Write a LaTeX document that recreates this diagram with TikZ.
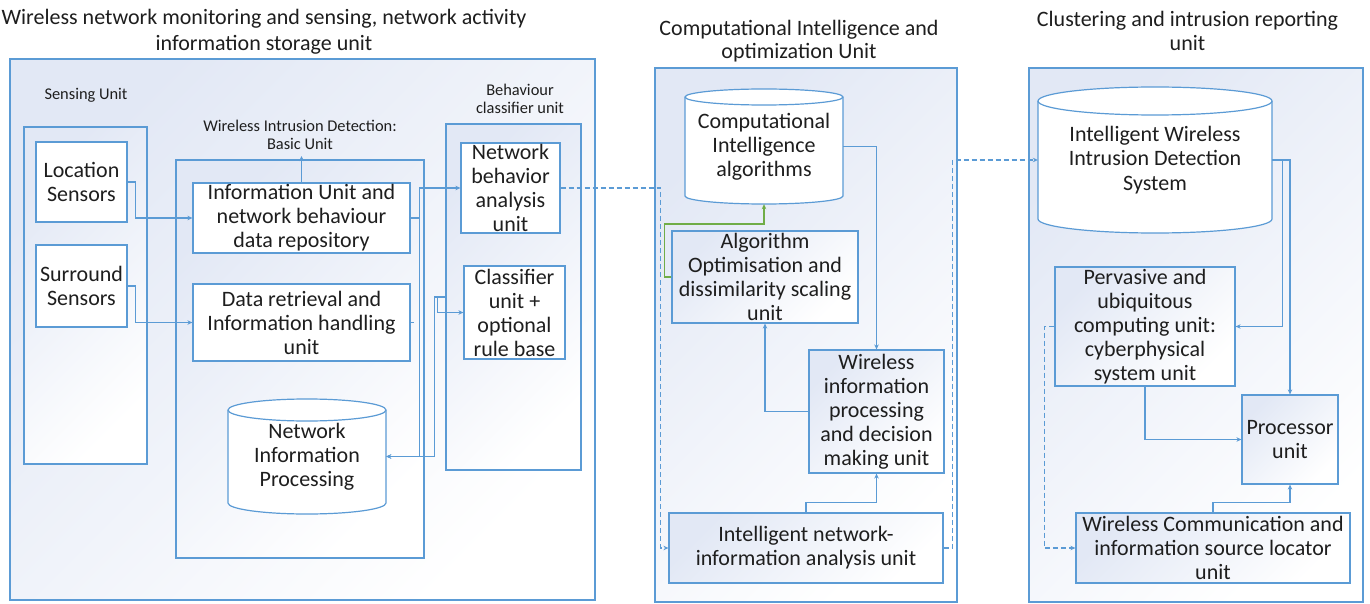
\documentclass[tikz,border=0pt]{standalone}
\usepackage{fontspec}
\setmainfont{Carlito}
\usetikzlibrary{arrows.meta,calc}
\definecolor{bl}{RGB}{91,155,213}
\definecolor{gr}{RGB}{112,173,71}
\definecolor{sh}{RGB}{226,232,245}
\definecolor{tx}{RGB}{30,30,30}
\newcommand\cylpath[6]{%
 \draw[cylst] (#1,{#3+#6}) -- (#1,{#4-#6}) arc[start angle=180,end angle=360,x radius=#5pt,y radius=#6pt] -- (#2,{#3+#6}) arc[start angle=0,end angle=180,x radius=#5pt,y radius=#6pt] -- cycle;
 \draw[cylline] (#1,{#3+#6}) arc[start angle=180,end angle=360,x radius=#5pt,y radius=#6pt];}
\begin{document}
\begin{tikzpicture}[x=1pt,y=-1pt,
  every node/.style={text=tx, font=\fontsize{22}{24}\selectfont},
  bigframe/.style={draw=bl, line width=1.2pt, top color=sh, bottom color=white, shading angle=45},
  plainbox/.style={draw=bl, line width=1.2pt, fill=white, inner sep=0pt, align=center},
  shbox/.style={bigframe, inner sep=0pt, align=center},
  cyltext/.style={inner sep=0pt, align=center},
  cylst/.style={draw=bl, line width=1.2pt, fill=white},
  cylline/.style={draw=bl, line width=1.2pt},
  lab/.style={font=\fontsize{16.4}{18.5}\selectfont, align=center},
  ttl/.style={align=center},
  conn/.style={draw=bl, line width=1.1pt},
  arr/.style={conn, -{Stealth[length=5pt,width=4.5pt]}},
  garr/.style={draw=gr, line width=1.4pt, -{Stealth[length=5pt,width=4.5pt]}},
  dconn/.style={arr, dash pattern=on 5pt off 3pt},
]
\useasboundingbox (0,0) rectangle (1370,604);
\fill[white] (0,0) rectangle (1370,604);

% titles
\node[ttl, font=\fontsize{22}{26}\selectfont] (t1) at (264,32) {Wireless network monitoring and sensing, network activity\\information storage unit};
\node[ttl, font=\fontsize{22}{23}\selectfont] (t2) at (799,41.5) {Computational Intelligence and\\optimization Unit};
\node[ttl] (t3) at (1187.5,31) {Clustering and intrusion reporting\\unit};

% big frames
\node[bigframe, minimum width=585pt, minimum height=541pt] (L) at (302.5,329.5) {};
\node[bigframe, minimum width=302pt, minimum height=534pt] (M) at (806,335) {};
\node[bigframe, minimum width=334pt, minimum height=534pt] (R) at (1196,335) {};

% left unit
\node[lab] (l1) at (86,95) {Sensing Unit};
\node[lab] (l2) at (520,99) {Behaviour\\classifier unit};
\node[lab] (l3) at (300,135) {Wireless Intrusion Detection:\\Basic Unit};

\node[shbox, minimum width=123pt, minimum height=337pt] (sens) at (85.5,295.5) {};
\node[plainbox, minimum width=91pt, minimum height=80pt] (loc) at (81.5,182) {Location\\Sensors};
\node[plainbox, minimum width=91pt, minimum height=82pt] (sur) at (81.5,286) {Surround\\Sensors};

\node[shbox, minimum width=248pt, minimum height=398pt] (wid) at (300,359) {};
\node[plainbox, minimum width=217pt, minimum height=70pt, inner ysep=-5pt] (info) at (301.5,218) {Information Unit and\\network behaviour\\data repository};
\node[plainbox, minimum width=217pt, minimum height=77pt, inner ysep=-5pt] (dret) at (301.5,322.5) {Data retrieval and\\Information handling\\unit};

\cylpath{228}{386}{399}{514}{79}{11}
\node[cyltext, minimum width=158pt, minimum height=115pt] (nip) at (307,456.5) {Network\\Information\\Processing};

\node[shbox, minimum width=135pt, minimum height=346pt] (beh) at (513.5,297) {};
\node[plainbox, minimum width=99pt, minimum height=90pt, inner ysep=-9pt] (nba) at (510.5,188) {Network\\behavior\\analysis\\unit};
\node[plainbox, minimum width=101pt, minimum height=93pt, inner ysep=-9pt] (cls) at (514.5,312.5) {Classifier\\unit +\\optional\\rule base};

% middle unit
\cylpath{685}{843}{89}{204}{79}{8}
\node[cyltext, minimum width=158pt, minimum height=115pt] (cia) at (764,146.5) {Computational\\Intelligence\\algorithms};
\node[shbox, minimum width=186pt, minimum height=92pt, inner ysep=-9pt] (algo) at (765,277) {Algorithm\\Optimisation and\\dissimilarity scaling\\unit};
\node[shbox, minimum width=135pt, minimum height=123pt, inner ysep=-5pt] (wip) at (876.5,411.5) {Wireless\\information\\processing\\and decision\\making unit};
\node[shbox, minimum width=274pt, minimum height=70pt] (inet) at (806,548) {Intelligent network-\\information analysis unit};

% right unit
\cylpath{1038}{1272}{87}{233}{117}{14}
\node[cyltext, minimum width=234pt, minimum height=146pt, font=\fontsize{22}{24.5}\selectfont] (iwids) at (1155,160) {Intelligent Wireless\\Intrusion Detection\\System};
\node[shbox, minimum width=180pt, minimum height=119pt, inner ysep=-5pt] (perv) at (1145,326.5) {Pervasive and\\ubiquitous\\computing unit:\\cyberphysical\\system unit};
\node[shbox, minimum width=96pt, minimum height=89pt] (proc) at (1290,439.5) {Processor\\unit};
\node[shbox, minimum width=274pt, minimum height=70pt, inner ysep=-5pt] (wcom) at (1213,548) {Wireless Communication and\\information source locator\\unit};

% connectors left
\coordinate (wt) at (301.5,156);
\draw[arr] (loc.east) -- ++(8,0) |- (info.west);
\draw[arr] (sur.east) -- ++(8,0) |- (dret.west);
\draw[arr] (info.north) -- (wt);
\draw[arr] (info.east) -- ++(9,0) |- (nba.west);
\draw[arr] (info.east) -- ++(9,0) |- (nip.east);
\draw[arr] (beh.west) -- ++(-11,0) |- (nip.east);
\draw[arr] (beh.west) -- ++(-8,0) |- (cls.west);
\draw[conn] (dret.east) -- ++(3,0);
\draw[dconn] (nba.east) -- ++(100,0) |- (inet.west);

% connectors middle
\draw[arr] (cia.east) -| (wip.north);
\draw[garr] (algo.west) -- ++(-7,0) -- ++(0,-53) -| (cia.south);
\draw[arr] (wip.west) -| (algo.south);
\draw[arr] (inet.north) -- ++(0,-10) -| (wip.south);
\draw[dconn] (inet.east) -- ++(9,0) |- (iwids.west);

% connectors right
\draw[arr] (iwids.east) -- ++(10,0) |- (perv.east);
\draw[arr] (iwids.east) -| (proc.north);
\draw[arr] (perv.south) |- (proc.west);
\draw[arr] (wcom.north) -- ++(0,-10) -| (proc.south);
\draw[dconn] (perv.west) -- ++(-10,0) |- (wcom.west);
\end{tikzpicture}
\end{document}
